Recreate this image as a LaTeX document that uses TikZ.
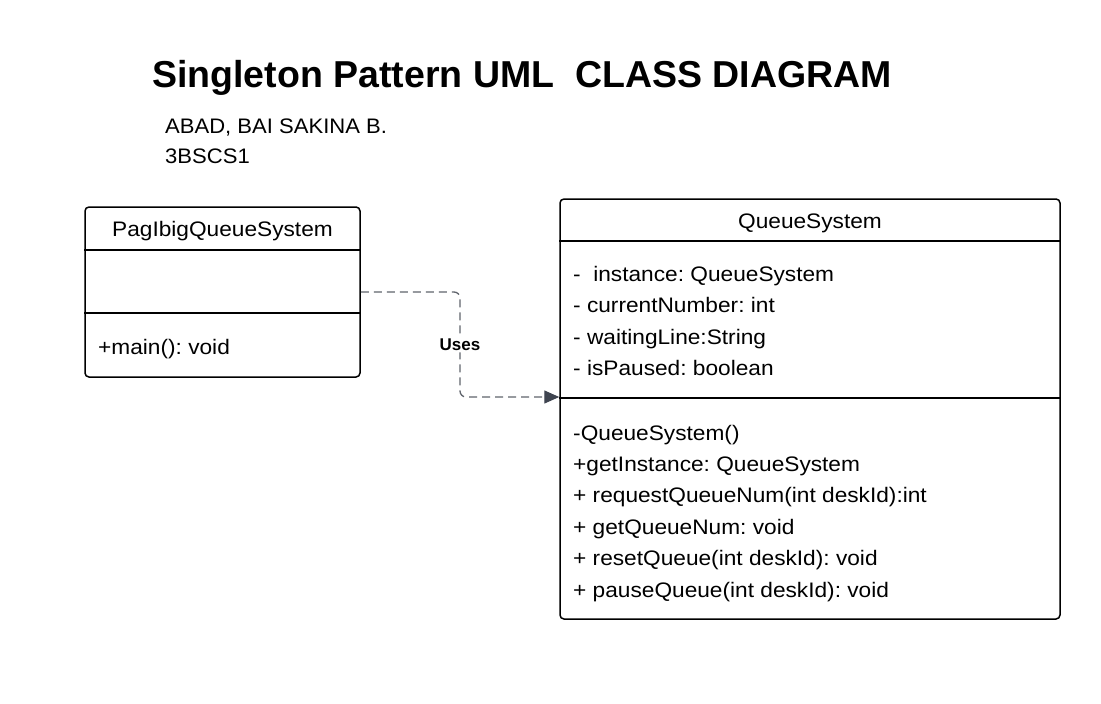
\documentclass[tikz,border=0pt]{standalone}
\usepackage{fontspec}
\setmainfont{Liberation Sans}
\newfontfamily\memberfont[FakeStretch=1.08]{Liberation Sans}
\newfontfamily\subfont[FakeStretch=1.05]{Liberation Sans}
\usetikzlibrary{positioning,arrows.meta}
\definecolor{usesline}{HTML}{60646C}
\definecolor{usestip}{HTML}{3F4450}
\frenchspacing

\begin{document}
\begin{tikzpicture}[x=1pt, y=-1pt,
    classbox/.style = {draw, line width=1.5pt, rounded corners=4pt, inner sep=0pt},
    divider/.style = {line width=1.5pt},
    member/.style = {anchor=base west, inner sep=0pt, font=\memberfont\fontsize{21}{25}\selectfont},
    classname/.style = {anchor=base, inner sep=0pt, font=\memberfont\fontsize{21}{25}\selectfont},
    heading/.style = {anchor=base west, inner sep=0pt, font=\subfont\fontsize{21}{25}\selectfont},
    uses/.style = {draw=usesline, line width=1.3pt, dash pattern=on 8pt off 5pt, rounded corners=6pt,
        -{Triangle[length=15pt, width=13pt, color=usestip, fill=usestip]}}]
    \useasboundingbox (0,0) rectangle (1101,704);
    % Heading
    \node[anchor=base west, inner sep=0pt, font=\bfseries\fontsize{37.5}{44}\selectfont] (title) at (152,87) {Singleton Pattern UML\ \ CLASS DIAGRAM};
    \node[heading] (author) at (165,133) {ABAD, BAI SAKINA B.};
    \node[heading] (section) at (165,163) {3BSCS1};
    % Classes
    \node[classbox, minimum width=275pt, minimum height=170pt] (pagibig) at (222.5,292) {};
    \node[classbox, minimum width=500pt, minimum height=420pt] (queue) at (810,409) {};
    \draw[divider] (pagibig.west |- 0,250) -- (pagibig.east |- 0,250);
    \draw[divider] (pagibig.west |- 0,313) -- (pagibig.east |- 0,313);
    \draw[divider] (queue.west |- 0,241) -- (queue.east |- 0,241);
    \draw[divider] (queue.west |- 0,398) -- (queue.east |- 0,398);
    % Members
    \node[classname] (pagibigname) at (222.5,236) {PagIbigQueueSystem};
    \node[member] (main) at (98,354) {+main(): void};
    \node[classname] (queuename) at (810,228) {QueueSystem};
    \node[member] (instance) at (573,281) {-\ \ instance: QueueSystem};
    \node[member] (current) at (573,312) {- currentNumber: int};
    \node[member] (waiting) at (573,344) {- waitingLine:String};
    \node[member] (paused) at (573,375) {- isPaused: boolean};
    \node[member] (ctor) at (573,440) {-QueueSystem()};
    \node[member] (getinst) at (573,471) {+getInstance: QueueSystem};
    \node[member] (request) at (573,502) {+ requestQueueNum(int deskId):int};
    \node[member] (getnum) at (573,534) {+ getQueueNum: void};
    \node[member] (reset) at (573,565) {+ resetQueue(int deskId): void};
    \node[member] (pause) at (573,597) {+ pauseQueue(int deskId): void};
    % Edges
    \coordinate (usesend) at (queue.west |- 0,397);
    \draw[uses] (pagibig.east) -- (460,292) -- node[fill=white, inner sep=2pt, font=\bfseries\fontsize{17}{20}\selectfont] (useslabel) {Uses} (460,397) -- (usesend);
\end{tikzpicture}
\end{document}
